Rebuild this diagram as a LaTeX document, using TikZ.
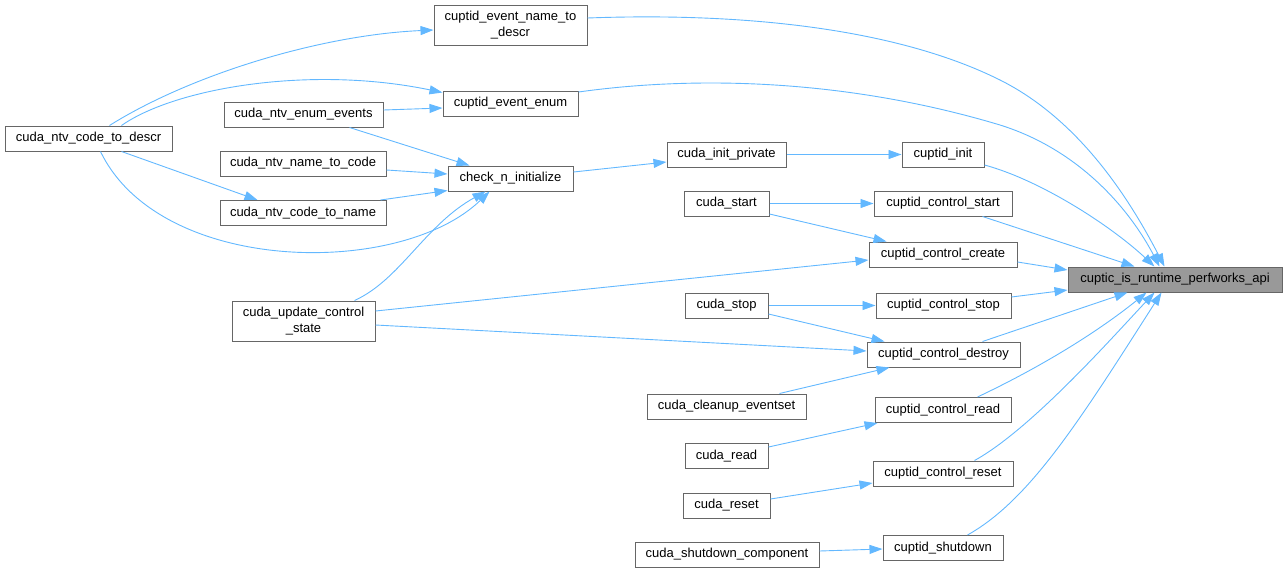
\documentclass[tikz,border=0pt]{standalone}
\usepackage{fontspec}
\setmainfont{Liberation Sans}
\usetikzlibrary{arrows.meta}
\definecolor{edgeblue}{HTML}{63B8FF}
\definecolor{boxline}{HTML}{666666}
\definecolor{mainfill}{HTML}{999999}
\begin{document}
\begin{tikzpicture}[x=1pt,y=-1pt,
  fnbase/.style={draw=boxline,line width=1pt,fill=white,inner sep=0pt,
    font=\fontsize{13}{16}\selectfont,text=black},
  fn/.style={fnbase,minimum height=25pt,text height=9.2pt,text depth=3.2pt},
  fn2/.style={fnbase,minimum height=40pt,align=center},
  mainfn/.style={fn,fill=mainfill},
  call/.style={draw=edgeblue,line width=0.9pt,-{Triangle[length=13pt,width=9pt]}}]
\useasboundingbox (0,0) rectangle (1287,573);
% nodes
\node[fn,minimum width=167pt] (descr) at (88.5,138.5) {cuda\_ntv\_code\_to\_descr};
\node[fn,minimum width=159pt] (enumev) at (303.5,114.5) {cuda\_ntv\_enum\_events};
\node[fn,minimum width=166pt] (n2c) at (303,163.5) {cuda\_ntv\_name\_to\_code};
\node[fn,minimum width=166pt] (c2n) at (303,213) {cuda\_ntv\_code\_to\_name};
\node[fn2,minimum width=143pt] (upd) at (303.5,321) {cuda\_update\_control\\\_state};
\node[fn2,minimum width=153pt] (evn2d) at (510.5,25) {cuptid\_event\_name\_to\\\_descr};
\node[fn,minimum width=135pt] (evenum) at (510.5,103.5) {cuptid\_event\_enum};
\node[fn,minimum width=125pt] (chk) at (510.5,178.5) {check\_n\_initialize};
\node[fn,minimum width=119pt] (initp) at (726.5,154.5) {cuda\_init\_private};
\node[fn,minimum width=85pt] (start) at (726.5,203.5) {cuda\_start};
\node[fn,minimum width=83pt] (stop) at (726.5,305.5) {cuda\_stop};
\node[fn,minimum width=159pt] (cleanup) at (726.5,406.5) {cuda\_cleanup\_eventset};
\node[fn,minimum width=83pt] (read) at (726.5,456) {cuda\_read};
\node[fn,minimum width=87pt] (reset) at (726.5,505.5) {cuda\_reset};
\node[fn,minimum width=184pt] (shutc) at (727,554.5) {cuda\_shutdown\_component};
\node[fn,minimum width=82pt] (init) at (943,154.5) {cuptid\_init};
\node[fn,minimum width=138pt] (cstart) at (943,203.5) {cuptid\_control\_start};
\node[fn,minimum width=148pt] (ccreate) at (943,254.5) {cuptid\_control\_create};
\node[fn,minimum width=135pt] (cstop) at (943.5,305.5) {cuptid\_control\_stop};
\node[fn,minimum width=153pt] (cdestroy) at (943.5,354.5) {cuptid\_control\_destroy};
\node[fn,minimum width=136pt] (cread) at (943,410) {cuptid\_control\_read};
\node[fn,minimum width=140pt] (creset) at (943,473.5) {cuptid\_control\_reset};
\node[fn,minimum width=120pt] (cshut) at (943,548) {cuptid\_shutdown};
\node[mainfn,minimum width=214pt] (main) at (1175,279.5) {cuptic\_is\_runtime\_perfworks\_api};
% edges from cuda_ntv_code_to_descr
\draw[call] ([xshift=105pt]descr.north west) .. controls (190,75) and (320,35) .. ([yshift=-5pt]evn2d.west);
\draw[call] ([xshift=117pt]descr.north west) .. controls (175,88) and (310,65) .. ([yshift=11pt]evenum.west);
\draw[call] ([xshift=117pt]descr.south west) -- ([xshift=38pt]c2n.north west);
\draw[call] ([xshift=96pt]descr.south west) .. controls (160,275) and (400,278) .. ([xshift=42pt]chk.south west);
% into check_n_initialize / cuptid_event_enum
\draw[call] ([yshift=4.5pt]enumev.east) -- ([yshift=-4.5pt]evenum.west);
\draw[call] ([xshift=126pt]enumev.south west) -- ([xshift=22pt]chk.north west);
\draw[call] ([yshift=-6.5pt]n2c.east) -- ([yshift=4.5pt]chk.west);
\draw[call] ([xshift=-6pt]c2n.north east) -- ([yshift=1pt]chk.south west);
\draw[call] ([xshift=123pt]upd.north west) .. controls (400,280) and (425,225) .. ([xshift=38pt]chk.south west);
\draw[call] ([yshift=6.5pt]chk.east) -- ([yshift=-7.5pt]initp.west);
% middle column to cuptid nodes
\draw[call] (initp.east) -- (init.west);
\draw[call] (start.east) -- (cstart.west);
\draw[call] ([yshift=-10.5pt]start.east) -- ([xshift=18pt]ccreate.north west);
\draw[call] ([yshift=10pt]upd.east) -- ([yshift=-5.5pt]ccreate.west);
\draw[call] (stop.east) -- (cstop.west);
\draw[call] ([yshift=-8.5pt]stop.east) -- ([xshift=18pt]cdestroy.north west);
\draw[call] ([yshift=-4pt]upd.east) -- ([yshift=3.5pt]cdestroy.west);
\draw[call] ([xshift=133pt]cleanup.north west) -- ([xshift=23pt]cdestroy.south west);
\draw[call] ([yshift=9pt]read.east) -- ([xshift=3pt]cread.south west);
\draw[call] ([yshift=6.5pt]reset.east) -- ([yshift=-9.5pt]creset.west);
\draw[call] ([yshift=3.5pt]shutc.east) -- ([yshift=-1pt]cshut.west);
% into cuptic_is_runtime_perfworks_api
\draw[call] ([yshift=7pt]evn2d.east) .. controls (750,12) and (900,30) .. (1000,80) .. controls (1080,120) and (1130,200) .. ([xshift=97pt]main.north west);
\draw[call] ([yshift=11.5pt]evenum.east) .. controls (700,75) and (850,80) .. (1000,125) .. controls (1080,150) and (1130,210) .. ([xshift=92pt]main.north west);
\draw[call] ([yshift=-10.5pt]init.east) .. controls (1040,180) and (1110,225) .. ([xshift=87pt]main.north west);
\draw[call] ([xshift=109pt]cstart.south west) -- ([xshift=67pt]main.north west);
\draw[call] ([yshift=-7.5pt]ccreate.east) -- ([yshift=9.5pt]main.west);
\draw[call] ([yshift=8.5pt]cstop.east) -- ([yshift=-10.5pt]main.west);
\draw[call] ([xshift=116pt]cdestroy.north west) -- ([xshift=60pt]main.south west);
\draw[call] ([xshift=103pt]cread.north west) .. controls (1045,365) and (1100,330) .. ([xshift=79pt]main.south west);
\draw[call] ([xshift=102pt]creset.north west) .. controls (1030,430) and (1110,340) .. ([xshift=87pt]main.south west);
\draw[call] ([xshift=85pt]cshut.north west) .. controls (1030,500) and (1080,420) .. ([xshift=94pt]main.south west);
\end{tikzpicture}
\end{document}
